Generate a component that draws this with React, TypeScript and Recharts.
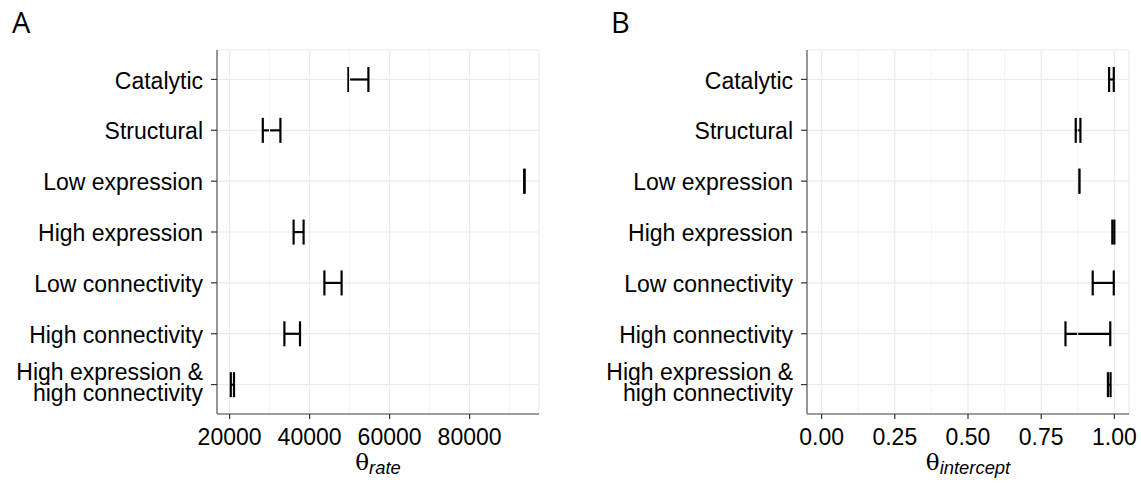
import { Bar, CartesianGrid, ComposedChart, Label, ReferenceLine, XAxis, YAxis } from "recharts";

// categories, top to bottom
const categories = [
  "Catalytic",
  "Structural",
  "Low expression",
  "High expression",
  "Low connectivity",
  "High connectivity",
  "High expression &\nhigh connectivity",
];

// panel A: theta rate interval
const rateLower = [49700, 28300, 93650, 36000, 43700, 33700, 20300];
const rateUpper = [54700, 32700, 93750, 38500, 48000, 37600, 21100];
const rateTicks = [20000, 40000, 60000, 80000];
const rateMinor = [30000, 50000, 70000, 90000];

// panel B: theta intercept interval
const interceptLower = [0.982, 0.868, 0.879, 0.993, 0.926, 0.833, 0.978];
const interceptUpper = [0.998, 0.884, 0.881, 1.0, 0.998, 0.986, 0.987];
const interceptTicks = [0, 0.25, 0.5, 0.75, 1];
const interceptMinor = [0.125, 0.375, 0.625, 0.875];

const FONT = "'Liberation Sans', Arial, Helvetica, sans-serif";
const BORDER = "#7f7f7f";

// H shaped interval drawn from the bar box recharts computes
function IntervalShape(props: any) {
  const { x, y, width, height } = props;
  const mid = y + height / 2;
  return (
    <g stroke="#000" strokeWidth={2.2}>
      <line x1={x} x2={x} y1={y} y2={y + height} />
      <line x1={x + width} x2={x + width} y1={y} y2={y + height} />
      <line x1={x} x2={x + width} y1={mid} y2={mid} />
    </g>
  );
}

function CategoryTick(props: any) {
  const { x, y, payload } = props;
  const lines = String(payload.value).split("\n");
  const lh = 20.5;
  // two-line labels sit a little higher than the tick, as in ggplot
  const start = -((lines.length - 1) * lh) / 2 - (lines.length > 1 ? 3.5 : 0);
  return (
    <text x={x} y={y} textAnchor="end" fontSize={23} fontFamily={FONT} fill="#000">
      {lines.map((l, i) => (
        <tspan key={i} x={x} y={y + start + i * lh} dy="0.4em">
          {l}
        </tspan>
      ))}
    </text>
  );
}

function AxisTitle(props: any) {
  const { viewBox, sub } = props;
  const cx = viewBox.x + viewBox.width / 2;
  const y = viewBox.y + 56;
  return (
    <text x={cx} y={y} textAnchor="middle" fill="#000">
      <tspan fontFamily="'DejaVu Serif', serif" fontSize={23}>
        θ
      </tspan>
      <tspan fontFamily={FONT} fontStyle="italic" fontSize={18.4} dy={4}>
        {sub}
      </tspan>
    </text>
  );
}

type PanelProps = {
  lower: number[];
  upper: number[];
  domain: [number, number];
  ticks: number[];
  minor: number[];
  sub: string;
  width: number;
  yWidth: number;
  right: number;
  format?: (v: number) => string;
};

function Panel({ lower, upper, domain, ticks, minor, sub, width, yWidth, right, format }: PanelProps) {
  const data = categories.map((name, i) => ({ name, range: [lower[i], upper[i]] }));
  return (
    <ComposedChart
      layout="vertical"
      data={data}
      width={width}
      height={484}
      margin={{ top: 50, right, bottom: 40, left: 0 }}
    >
      <CartesianGrid stroke="#ebebeb" strokeWidth={1.2} />
      {minor.map((v) => (
        <ReferenceLine key={v} x={v} stroke="#f4f4f4" strokeWidth={1} />
      ))}
      <XAxis
        type="number"
        domain={domain}
        allowDataOverflow
        ticks={ticks}
        interval={0}
        tickFormatter={format}
        height={30}
        tickSize={5}
        tickMargin={10}
        tick={{ fontSize: 23, fill: "#000", fontFamily: FONT }}
        tickLine={{ stroke: "#333", strokeWidth: 1.2 }}
        axisLine={{ stroke: BORDER, strokeWidth: 1.6 }}
      >
        <Label content={<AxisTitle sub={sub} />} />
      </XAxis>
      {/* top and right edges of the panel frame */}
      <XAxis
        xAxisId="top"
        orientation="top"
        type="number"
        domain={domain}
        height={0}
        tick={false}
        tickLine={false}
        axisLine={{ stroke: BORDER, strokeWidth: 1.6 }}
      />
      <YAxis
        yAxisId="right"
        orientation="right"
        type="number"
        domain={[0, 1]}
        width={0}
        tick={false}
        tickLine={false}
        axisLine={{ stroke: BORDER, strokeWidth: 1.6 }}
      />
      <YAxis
        type="category"
        dataKey="name"
        width={yWidth}
        padding={{ top: 4, bottom: 4 }}
        interval={0}
        tickSize={6}
        tickMargin={8}
        tick={<CategoryTick />}
        tickLine={{ stroke: "#333", strokeWidth: 1.2 }}
        axisLine={{ stroke: BORDER, strokeWidth: 1.6 }}
      />
      <Bar dataKey="range" barSize={25} shape={<IntervalShape />} isAnimationActive={false} />
    </ComposedChart>
  );
}

export default function App() {
  return (
    <div style={{ position: "absolute", left: 0, top: 0, width: 1141, height: 484, background: "#fff" }}>
      <svg width={1141} height={484} style={{ position: "absolute", left: 0, top: 0 }}>
        <text x={12} y={33} fontSize={29} fontFamily="'Open Sans', sans-serif" fill="#000">
          A
        </text>
        <text x={611} y={33} fontSize={29} fontFamily="'Open Sans', sans-serif" fill="#000">
          B
        </text>
      </svg>
      <div style={{ position: "absolute", left: 0, top: 0 }}>
        <Panel
          lower={rateLower}
          upper={rateUpper}
          domain={[16850, 97350]}
          ticks={rateTicks}
          minor={rateMinor}
          sub="rate"
          width={560}
          yWidth={217}
          right={21}
        />
      </div>
      <div style={{ position: "absolute", left: 560, top: 0 }}>
        <Panel
          lower={interceptLower}
          upper={interceptUpper}
          domain={[-0.05, 1.05]}
          ticks={interceptTicks}
          minor={interceptMinor}
          sub="intercept"
          width={581}
          yWidth={247}
          right={12}
          format={(v) => v.toFixed(2)}
        />
      </div>
    </div>
  );
}
